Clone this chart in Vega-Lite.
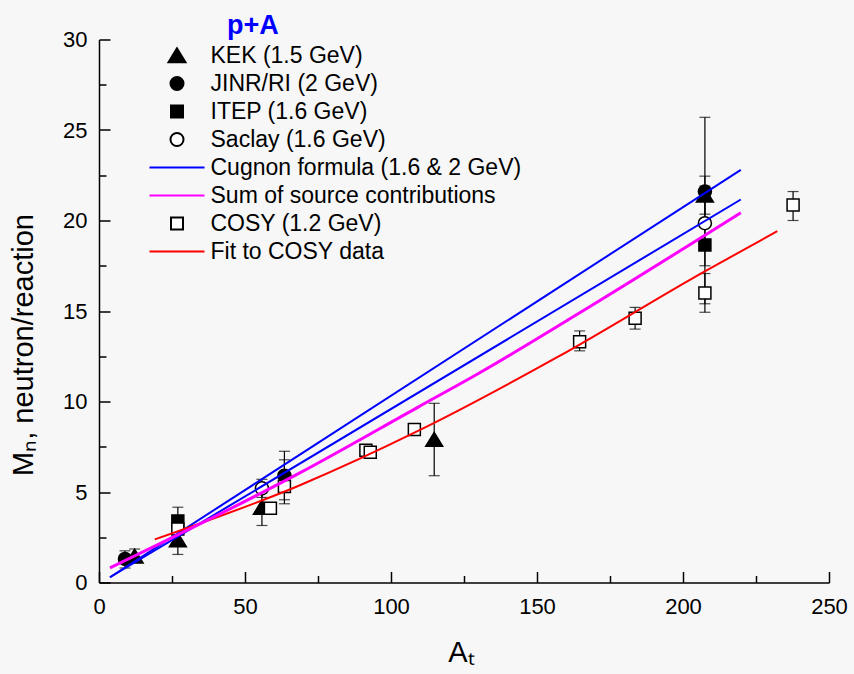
{
  "$schema": "https://vega.github.io/schema/vega-lite/v6.json",
  "width": 730,
  "height": 543,
  "autosize": {"type": "none"},
  "padding": {"left": 99, "top": 39.5, "right": 25, "bottom": 91.5},
  "background": "#f7f7f7",
  "title": {"text": "p+A", "anchor": "start", "frame": "group", "dx": 128, "dy": 38, "offset": 6, "baseline": "alphabetic", "color": "#0000ff", "fontSize": 27, "fontWeight": "bold", "font": "Liberation Sans"},
  "datasets": {
    "pts": [
      {"series": "KEK (1.5 GeV)", "A": 12.2, "M": 1.45},
      {"series": "KEK (1.5 GeV)", "A": 27, "M": 2.35},
      {"series": "KEK (1.5 GeV)", "A": 55.8, "M": 4.15},
      {"series": "KEK (1.5 GeV)", "A": 114.8, "M": 7.9},
      {"series": "KEK (1.5 GeV)", "A": 207.5, "M": 21.4},
      {"series": "JINR/RI (2 GeV)", "A": 8.9, "M": 1.3},
      {"series": "JINR/RI (2 GeV)", "A": 63.5, "M": 5.9},
      {"series": "JINR/RI (2 GeV)", "A": 207.5, "M": 21.6},
      {"series": "ITEP (1.6 GeV)", "A": 27, "M": 3.4},
      {"series": "ITEP (1.6 GeV)", "A": 207.5, "M": 18.65},
      {"series": "Saclay (1.6 GeV)", "A": 55.8, "M": 5.2},
      {"series": "Saclay (1.6 GeV)", "A": 207.5, "M": 19.85},
      {"series": "COSY (1.2 GeV)", "A": 27, "M": 2.95},
      {"series": "COSY (1.2 GeV)", "A": 58.7, "M": 4.1},
      {"series": "COSY (1.2 GeV)", "A": 63.5, "M": 5.3},
      {"series": "COSY (1.2 GeV)", "A": 91.4, "M": 7.3},
      {"series": "COSY (1.2 GeV)", "A": 92.9, "M": 7.2},
      {"series": "COSY (1.2 GeV)", "A": 108, "M": 8.45},
      {"series": "COSY (1.2 GeV)", "A": 164.6, "M": 13.3},
      {"series": "COSY (1.2 GeV)", "A": 183.6, "M": 14.6},
      {"series": "COSY (1.2 GeV)", "A": 207.5, "M": 16.0},
      {"series": "COSY (1.2 GeV)", "A": 237.7, "M": 20.85}
    ],
    "errs": [
      {"A": 12.2, "lo": 1.1, "hi": 1.85},
      {"A": 8.9, "lo": 0.8, "hi": 1.75},
      {"A": 27, "lo": 1.55, "hi": 3.1},
      {"A": 27, "lo": 2.65, "hi": 4.16},
      {"A": 55.8, "lo": 3.15, "hi": 5.15},
      {"A": 55.8, "lo": 4.7, "hi": 5.7},
      {"A": 63.5, "lo": 4.57, "hi": 7.25},
      {"A": 63.5, "lo": 4.35, "hi": 6.78},
      {"A": 114.8, "lo": 5.9, "hi": 9.9},
      {"A": 164.6, "lo": 12.8, "hi": 13.9},
      {"A": 183.6, "lo": 14.0, "hi": 15.2},
      {"A": 207.5, "lo": 14.93, "hi": 17.07},
      {"A": 207.5, "lo": 20.35, "hi": 22.45},
      {"A": 207.5, "lo": 17.5, "hi": 25.7},
      {"A": 207.5, "lo": 15.4, "hi": 21.9},
      {"A": 237.7, "lo": 20.0, "hi": 21.6}
    ],
    "lines": [
      {"series": "Cugnon formula (1.6 & 2 GeV)", "curve": "c2", "A": 3.76, "M": 0.29},
      {"series": "Cugnon formula (1.6 & 2 GeV)", "curve": "c2", "A": 219.8, "M": 22.8},
      {"series": "Cugnon formula (1.6 & 2 GeV)", "curve": "c16", "A": 3.76, "M": 0.29},
      {"series": "Cugnon formula (1.6 & 2 GeV)", "curve": "c16", "A": 219.8, "M": 21.16},
      {"series": "Fit to COSY data", "curve": "fit", "A": 19.1, "M": 2.38},
      {"series": "Fit to COSY data", "curve": "fit", "A": 68.6, "M": 5.36},
      {"series": "Fit to COSY data", "curve": "fit", "A": 109.6, "M": 8.4},
      {"series": "Fit to COSY data", "curve": "fit", "A": 157.4, "M": 12.49},
      {"series": "Fit to COSY data", "curve": "fit", "A": 207, "M": 17.15},
      {"series": "Fit to COSY data", "curve": "fit", "A": 232.3, "M": 19.41}
    ],
    "sum": [
      {"series": "Sum of source contributions", "A": 3.76, "M": 0.81},
      {"series": "Sum of source contributions", "A": 68.6, "M": 6.04},
      {"series": "Sum of source contributions", "A": 109.6, "M": 9.72},
      {"series": "Sum of source contributions", "A": 130.1, "M": 11.56},
      {"series": "Sum of source contributions", "A": 171.1, "M": 15.54},
      {"series": "Sum of source contributions", "A": 219.8, "M": 20.43}
    ]
  },
  "layer": [
    {
      "data": {"name": "errs"},
      "mark": {"type": "rule", "color": "black", "strokeWidth": 1.2},
      "encoding": {
        "x": {"field": "A", "type": "quantitative", "scale": {"domain": [0, 250], "nice": false},
          "axis": {"title": "Aₜ", "values": [0, 25, 50, 75, 100, 125, 150, 175, 200, 225, 250],
            "labelExpr": "datum.value % 50 === 0 ? datum.label : ''", "labelFlush": false,
            "tickSize": {"condition": {"test": "datum.value % 50 === 0", "value": -11}, "value": -7},
            "labelPadding": 25, "titleX": 362, "titleY": 70, "titleBaseline": "middle"}},
        "y": {"field": "lo", "type": "quantitative", "scale": {"domain": [0, 30], "nice": false},
          "axis": {"title": "Mₙ, neutron/reaction", "values": [0, 2.5, 5, 7.5, 10, 12.5, 15, 17.5, 20, 22.5, 25, 27.5, 30],
            "labelExpr": "datum.value % 5 === 0 ? datum.label : ''", "labelFlush": false,
            "tickSize": {"condition": {"test": "datum.value % 5 === 0", "value": -11}, "value": -7},
            "labelPadding": 23, "titleX": -76, "titleY": 305, "titleBaseline": "middle", "titleAngle": -90}},
        "y2": {"field": "hi"}
      }
    },
    {
      "data": {"name": "errs"},
      "mark": {"type": "tick", "orient": "horizontal", "size": 11, "thickness": 1.2, "color": "black"},
      "encoding": {
        "x": {"field": "A", "type": "quantitative"},
        "y": {"field": "lo", "type": "quantitative"}
      }
    },
    {
      "data": {"name": "errs"},
      "mark": {"type": "tick", "orient": "horizontal", "size": 11, "thickness": 1.2, "color": "black"},
      "encoding": {
        "x": {"field": "A", "type": "quantitative"},
        "y": {"field": "hi", "type": "quantitative"}
      }
    },
    {
      "data": {"name": "pts"},
      "mark": {"type": "point", "size": 170, "strokeWidth": 1.5, "opacity": 1},
      "encoding": {
        "x": {"field": "A", "type": "quantitative"},
        "y": {"field": "M", "type": "quantitative"},
        "shape": {"field": "series", "type": "nominal",
          "scale": {"domain": ["KEK (1.5 GeV)", "JINR/RI (2 GeV)", "ITEP (1.6 GeV)", "Saclay (1.6 GeV)", "Cugnon formula (1.6 & 2 GeV)", "Sum of source contributions", "COSY (1.2 GeV)", "Fit to COSY data"],
            "range": ["M0,-1.1L-1.3,1.05L1.3,1.05Z", "circle", "M-0.92,-0.92H0.92V0.92H-0.92Z", "circle", "M-4.22,0H4.22", "M-4.22,0H4.22", "M-0.92,-0.92H0.92V0.92H-0.92Z", "M-4.22,0H4.22"]},
          "legend": {"orient": "none", "legendX": 66.5, "legendY": 4.5, "title": null}},
        "fill": {"field": "series", "type": "nominal",
          "scale": {"domain": ["KEK (1.5 GeV)", "JINR/RI (2 GeV)", "ITEP (1.6 GeV)", "Saclay (1.6 GeV)", "Cugnon formula (1.6 & 2 GeV)", "Sum of source contributions", "COSY (1.2 GeV)", "Fit to COSY data"],
            "range": ["black", "black", "black", "white", "transparent", "transparent", "white", "transparent"]},
          "legend": {"orient": "none", "legendX": 66.5, "legendY": 4.5, "title": null}},
        "stroke": {"field": "series", "type": "nominal",
          "scale": {"domain": ["KEK (1.5 GeV)", "JINR/RI (2 GeV)", "ITEP (1.6 GeV)", "Saclay (1.6 GeV)", "Cugnon formula (1.6 & 2 GeV)", "Sum of source contributions", "COSY (1.2 GeV)", "Fit to COSY data"],
            "range": ["black", "black", "black", "black", "#0000ff", "#ff00ff", "black", "#ff0000"]},
          "legend": {"orient": "none", "legendX": 66.5, "legendY": 4.5, "title": null}}
      }
    },
    {
      "data": {"name": "lines"},
      "mark": {"type": "line", "strokeWidth": 2, "interpolate": "monotone"},
      "encoding": {
        "x": {"field": "A", "type": "quantitative"},
        "y": {"field": "M", "type": "quantitative"},
        "detail": {"field": "curve"},
        "stroke": {"field": "series", "type": "nominal",
          "legend": {"orient": "none", "legendX": 66.5, "legendY": 4.5, "title": null}}
      }
    },
    {
      "data": {"name": "sum"},
      "mark": {"type": "line", "strokeWidth": 3, "interpolate": "monotone"},
      "encoding": {
        "x": {"field": "A", "type": "quantitative"},
        "y": {"field": "M", "type": "quantitative"},
        "stroke": {"field": "series", "type": "nominal",
          "legend": {"orient": "none", "legendX": 66.5, "legendY": 4.5, "title": null}}
      }
    }
  ],
  "config": {
    "view": {"stroke": null},
    "font": "Liberation Sans",
    "axis": {"grid": false, "domainColor": "black", "domainWidth": 1.5, "tickColor": "black", "tickWidth": 1.5,
      "labelColor": "black", "labelFontSize": 22, "labelFont": "Liberation Sans",
      "titleFont": "Liberation Sans", "titleFontWeight": "normal", "titleFontSize": 29, "titleColor": "black"},
    "legend": {"labelFontSize": 23, "labelColor": "black", "labelFont": "Liberation Sans", "symbolSize": 170,
      "symbolStrokeWidth": 2, "rowPadding": 4, "labelOffset": 22, "padding": 0, "labelLimit": 600}
  }
}
